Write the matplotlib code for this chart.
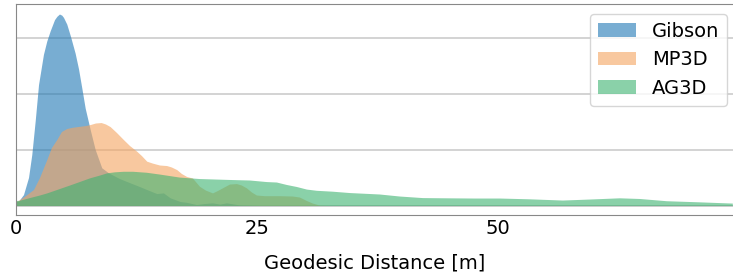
import numpy as np
import matplotlib
matplotlib.use("Agg")
import matplotlib.pyplot as plt

# densities (x in metres)
gibson_x = [0, 0.31, 0.83, 1.35, 1.69, 2.04, 2.39, 2.90, 3.25, 3.60, 4.05, 4.30,
            4.56, 4.80, 4.98, 5.32, 5.71, 6.19, 6.54, 6.88, 7.23, 7.75, 8.27,
            8.95, 9.65, 10.79, 11.83, 12.86, 13.62, 14.66, 15.35, 16.05, 17.08,
            17.74, 18.78, 19.6, 20.44, 21.2, 21.89, 23.2, 25.3, 35.0, 50.0, 65.0,
            74.4]
gibson_y = [0.0036, 0.0038, 0.0098, 0.025, 0.0455, 0.0753, 0.108, 0.135, 0.147,
            0.156, 0.166, 0.169, 0.171, 0.170, 0.168, 0.162, 0.151, 0.136, 0.122,
            0.105, 0.0870, 0.0679, 0.0500, 0.0337, 0.0292, 0.0241, 0.0205,
            0.0170, 0.0143, 0.0107, 0.0113, 0.0069, 0.0036, 0.0029, 0.0009,
            0.0018, 0.0024, 0.0013, 0.0024, 0.0006, 0.0002, 0.0002, 0.0002,
            0.0002, 0.0002]

mp3d_x = [0, 0.31, 1.04, 1.87, 2.49, 3.25, 3.73, 4.28, 4.77, 5.32, 5.91, 6.71,
          7.26, 7.75, 8.30, 8.89, 9.34, 9.82, 10.48, 11.20, 11.83, 12.58, 13.07,
          13.62, 14.21, 14.94, 15.69, 16.18, 16.73, 17.22, 17.77, 18.36, 19.09,
          19.71, 20.44, 20.95, 21.47, 22.2, 22.93, 23.44, 23.96, 24.48, 25.0,
          25.83, 27.39, 28.73, 29.46, 30.19, 30.81, 31.54, 32.57, 50.0, 74.4]
mp3d_y = [0.0036, 0.0047, 0.0089, 0.0143, 0.025, 0.0411, 0.0518, 0.0589, 0.0661,
          0.0688, 0.0699, 0.0708, 0.0714, 0.0723, 0.0737, 0.0741, 0.0728, 0.0705,
          0.0652, 0.0589, 0.0536, 0.0485, 0.0446, 0.0396, 0.0379, 0.0362, 0.0357,
          0.0344, 0.0321, 0.0286, 0.0259, 0.0246, 0.0172, 0.0138, 0.0113, 0.0134,
          0.0158, 0.0192, 0.0196, 0.0183, 0.0158, 0.0121, 0.0094, 0.0088, 0.0088,
          0.0085, 0.0076, 0.0045, 0.0022, 0.0004, 0.0002, 0.0002, 0.0002]

ag3d_x = [0, 0.41, 1.45, 2.49, 3.25, 4.56, 5.60, 6.71, 7.68, 8.71, 9.47, 10.27,
          11.20, 12.14, 13.59, 14.94, 17.01, 19.09, 22.51, 24.27, 26.04, 27.07,
          28.11, 29.15, 30.19, 31.22, 32.88, 34.65, 37.76, 39.83, 42.22, 44.71,
          47.61, 50.21, 53.32, 56.74, 59.54, 62.66, 64.73, 67.53, 70.95, 74.38]
ag3d_y = [0.0045, 0.0047, 0.0071, 0.0094, 0.0113, 0.0152, 0.0183, 0.0217, 0.0247,
          0.0272, 0.0292, 0.0301, 0.0306, 0.0306, 0.0297, 0.0281, 0.0254, 0.0241,
          0.0232, 0.0228, 0.0214, 0.0210, 0.0188, 0.0170, 0.0147, 0.0136, 0.0128,
          0.0116, 0.0103, 0.0085, 0.0071, 0.0069, 0.0067, 0.0067, 0.0060, 0.0049,
          0.0058, 0.0069, 0.0063, 0.0043, 0.0033, 0.0022]

names = ["Gibson", "MP3D", "AG3D"]
colors = ["tab:blue", "sandybrown", "mediumseagreen"]

fig = plt.figure(figsize=(7.33, 2.76), dpi=100)
ax = fig.add_axes([16 / 733, 61 / 276, 717 / 733, 211 / 276])

series = [(gibson_x, gibson_y), (mp3d_x, mp3d_y), (ag3d_x, ag3d_y)]
for (xs, ys), name, color in zip(series, names, colors):
    ax.fill_between(xs, ys, 0, facecolor=color, alpha=0.6, lw=0, label=name)

ax.set_xlim(0, 74.4)
ax.set_ylim(-0.008, 0.1804)
ax.set_yticks([0, 0.05, 0.10, 0.15])
ax.set_yticklabels([])
ax.set_xticks([0, 25, 50])
ax.tick_params(axis="both", length=0, labelsize=14, pad=3)
ax.tick_params(axis="y", pad=0)
ax.yaxis.grid(True, color="#d0d0d0", lw=1.3)
ax.set_axisbelow(True)
for side in ["left", "top", "bottom"]:
    ax.spines[side].set_color("#888888")
ax.spines["right"].set_visible(False)

ax.set_xlabel("Geodesic Distance [m]", fontsize=14, labelpad=11)
ax.legend(loc="upper right", bbox_to_anchor=(1.0, 0.981), fontsize=14,
          handlelength=2.0, borderaxespad=0.3, framealpha=0.8)

fig.savefig("out.png", dpi=100)
